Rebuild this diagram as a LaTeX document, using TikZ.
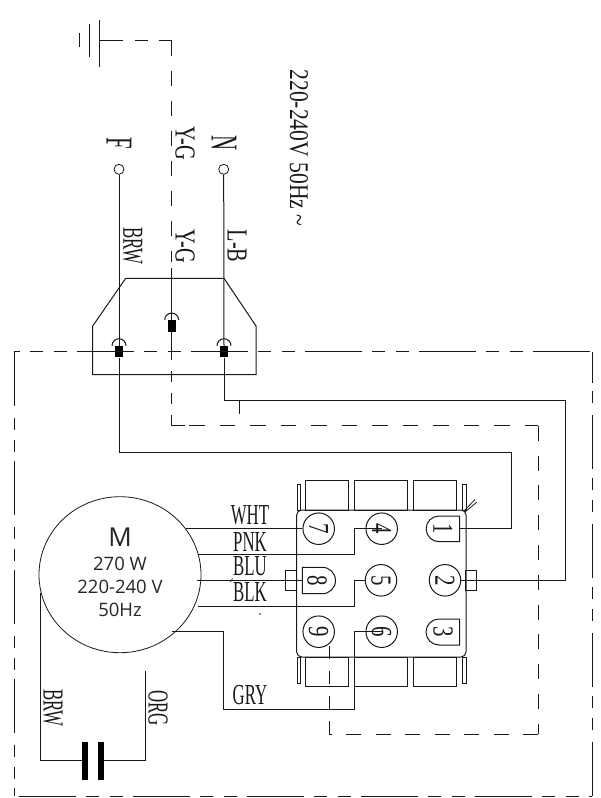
\documentclass[tikz,border=0pt]{standalone}
\usepackage{fontspec}
\usepackage{graphicx}
\setmainfont{Liberation Serif}
\newfontfamily\motorfont{Open Sans}
\usetikzlibrary{shapes.geometric,calc}
\definecolor{ink}{gray}{0.1}
\newcommand{\cond}[1]{\scalebox{0.58}[1]{\fontsize{29}{29}\selectfont #1}}
\newcommand{\rcond}[1]{\rotatebox{-90}{\cond{#1}}}
\newcommand{\rwide}[1]{\rotatebox{-90}{\scalebox{0.7}[1]{\fontsize{29}{29}\selectfont #1}}}
\newcommand{\rbig}[1]{\rotatebox{-90}{\scalebox{0.55}[1]{\fontsize{38}{38}\selectfont #1}}}
\newcommand{\dig}[1]{\rotatebox{-90}{\scalebox{0.72}[1]{\fontsize{29}{29}\selectfont #1}}}
\tikzset{
  wire/.style={draw=ink,line width=1pt},
  dashwire/.style={draw=ink,line width=1pt,dash pattern=on 15pt off 14.8pt},
  frameH/.style={draw=ink,line width=1pt,dash pattern=on 57pt off 10pt on 13pt off 11pt on 13pt off 10pt},
  frameV/.style={draw=ink,line width=1pt,dash pattern=on 54pt off 12pt on 12pt off 10pt on 12pt off 9pt},
  lab/.style={inner sep=0pt,text=ink},
  pin/.style={circle,draw=ink,line width=1pt,minimum size=31.5pt,inner sep=0pt,text=ink},
  plug/.style={circle,draw=ink,line width=.8pt,minimum size=10pt,inner sep=0pt},
  blk/.style={rectangle,fill=black,minimum width=8pt,minimum height=11.5pt,inner sep=0pt},
  tab/.style={draw=ink,line width=1pt},
  plate/.style={rectangle,fill=black,minimum width=6pt,minimum height=38pt,inner sep=0pt}
}
\begin{document}
\begin{tikzpicture}[x=1pt,y=-1pt]
\useasboundingbox (0,0) rectangle (601,798);
\fill[white] (0,0) rectangle (601,798);
% ground
\coordinate (gnd) at (99.3,40.7);
\coordinate (gc) at (171.7,40.7);
\draw[wire] (99.3,20) -- (99.3,66.7);
\draw[wire] (89.3,24) -- (89.3,56.7);
\draw[wire] (79.3,33) -- (79.3,47);
\draw[wire,dash pattern=on 23.5pt off 12.5pt on 12.5pt off 11pt on 13pt off 20pt] (gnd) -- (gc);
\draw[dashwire,dash pattern=on 15pt off 15pt] (gc) -- (171.7,262);
% plugs
\node[plug] (F) at (119,169.3) {};
\node[plug] (N) at (223.7,169.3) {};
\node[lab] (lF) at (119,143) {\rbig{F}};
\node[lab] (lN) at (224,143) {\rbig{N}};
\node[lab] (lYG1) at (185,143) {\rwide{Y-G}};
\node[lab] (lYG2) at (185,246) {\rwide{Y-G}};
\node[lab] (lLB) at (237,246) {\rwide{L-B}};
\node[lab] (lBRW1) at (132.7,246) {\rcond{BRW}};
\node[lab] (lV) at (299,148) {\rotatebox{-90}{\scalebox{0.8}[1]{\fontsize{27}{27}\selectfont 220-240V 50Hz \textasciitilde}}};
% terminal block
\draw[wire] (125.7,278.3) -- (224,278.3) -- (256,326) -- (256,374.7) -- (92.7,374.7) -- (92.7,326) -- cycle;
\node[blk] (bF) at (119,351.7) {};
\node[blk] (bY) at (171.7,326) {};
\node[blk] (bN) at (224,351.7) {};
\draw[wire] (bF.north) ++(-7,0) arc[start angle=180,end angle=360,radius=7];
\draw[wire] (bY.north) ++(-7,0) arc[start angle=180,end angle=360,radius=7];
\draw[wire] (bN.north) ++(-7,0) arc[start angle=180,end angle=360,radius=7];
\draw[wire] (F.south) -- (bF.north);
\draw[wire] (N.south) -- (bN.north);
\draw[wire] (171.7,268) -- (bY.north);
\draw[wire] (bY.south) -- (171.7,351);
% frame
\coordinate (fTL) at (14,351.7);
\coordinate (fTR) at (592.3,351.7);
\coordinate (fBR) at (592.3,796);
\coordinate (fBL) at (14,796);
\draw[frameH,dash phase=51pt] (fTL) -- (fTR);
\draw[frameH,dash phase=109pt] (fBL) -- (fBR);
\draw[frameV] (fTL) -- (fBL);
\draw[frameV] (fBR) -- (fTR);
\draw[wire] (fTR) -- (592.3,383);
% motor
\node[ellipse,draw=ink,line width=.8pt,minimum width=162pt,minimum height=156pt,inner sep=0pt] (M) at (120,574.7) {};
\node[lab,text=black!85] (mM) at (120,537) {\motorfont\fontsize{26}{26}\selectfont M};
\node[lab,text=black!85] (m1) at (120,564) {\motorfont\fontsize{18.5}{18.5}\selectfont 270 W};
\node[lab,text=black!85] (m2) at (120,587) {\motorfont\fontsize{18.5}{18.5}\selectfont 220-240 V};
\node[lab,text=black!85] (m3) at (120,610) {\motorfont\fontsize{18.5}{18.5}\selectfont 50Hz};
% connector body
\draw[tab,rounded corners=5pt] (296.7,510) rectangle (466,657);
\draw[tab] (305.7,480) rectangle (348.7,510);
\draw[tab] (354.7,480) rectangle (407.3,510);
\draw[tab] (413.7,480) rectangle (456.7,510);
\draw[tab] (305.7,657) rectangle (348.7,686.7);
\draw[tab] (354.7,657) rectangle (407.3,686.7);
\draw[tab] (413.7,657) rectangle (456.7,686.7);
\draw[tab] (297.3,484) rectangle (300.7,510);
\draw[tab] (462.3,484) rectangle (466.3,510);
\draw[tab] (297.3,657) rectangle (300.7,683);
\draw[tab] (462.3,657) rectangle (466.3,683);
\node[draw=ink,line width=1pt,minimum width=11pt,minimum height=19.5pt,inner sep=0pt] (tabL) at (291.2,580.3) {};
\node[draw=ink,line width=1pt,minimum width=10.5pt,minimum height=19.5pt,inner sep=0pt] (tabR) at (471.2,580.3) {};
\draw[wire,line width=.8pt] (464,511) -- (475,499.5);
\draw[wire,line width=.8pt] (465,512) -- (477,502);
% pins
\node[pin] (p7) at (318.7,528.7) {\dig{7}};
\node[pin] (p4) at (381.7,528.7) {\dig{4}};
\node[pin] (p5) at (381,580.3) {\dig{5}};
\node[pin] (p6) at (381.7,631.7) {\dig{6}};
\node[pin] (p9) at (318.7,631.7) {\dig{9}};
\node[pin] (p2) at (445,580.3) {\dig{2}};
\draw[wire] (459.7,516) -- (459.7,541.7) -- (439,541.7) arc[start angle=90,end angle=270,radius=12.85] -- cycle;
\draw[wire] (459.7,619) -- (459.7,645) -- (439,645) arc[start angle=90,end angle=270,radius=13] -- cycle;
\draw[wire] (302.3,567.3) -- (302.3,593.7) -- (322.3,593.7) arc[start angle=90,end angle=-90,radius=13.2] -- cycle;
\node[lab] (p1) at (443,528.8) {\dig{1}};
\node[lab] (p3) at (443,632) {\dig{3}};
\node[lab] (p8) at (317,580.5) {\dig{8}};
\coordinate (h1) at (459.7,528.8);
\coordinate (h8) at (302.3,580.3);
% motor wires
\coordinate (mW) at (186,528.7);
\coordinate (mP) at (198,554.7);
\coordinate (mU) at (197,580.3);
\coordinate (mK) at (198,606);
\coordinate (mG) at (171.7,631.7);
\draw[wire] (mW) -- (p7.west);
\draw[wire] (mP) -- (354.7,554.7) -- (354.7,528.7) -- (p4.center);
\draw[wire] (mU) -- (h8);
\draw[wire] (mK) -- (354.7,606) -- (354.7,580.3) -- (p5.west);
\draw[wire] (mG) -- (223.7,631.7) -- (223.7,709) -- (354.7,709) -- (354.7,631.7) -- (p6.center);
\node[lab] (lW) at (250,515.5) {\cond{WHT}};
\node[lab] (lP) at (250,541.5) {\cond{PNK}};
\node[lab] (lU) at (250,566.5) {\cond{BLU}};
\node[lab] (lK) at (250,592.5) {\cond{BLK}};
\node[lab] (lG) at (250,695.5) {\cond{GRY}};
\fill[ink] (260,614) circle (.8);
\draw[wire,line width=.7pt] (230.5,582) -- (232.5,578.5);
% capacitor
\coordinate (cA) at (40.5,593);
\coordinate (cB) at (145.3,670.7);
\node[plate] (c1) at (85.2,760.5) {};
\node[plate] (c2) at (100.8,760.5) {};
\draw[wire] (cA) -- (40.5,760.5) -- (c1.west);
\draw[wire] (c2.east) -- (145.3,760.5) -- (cB);
\node[lab] (lBRW2) at (53,708) {\rcond{BRW}};
\node[lab] (lORG) at (158,708) {\rcond{ORG}};
% supply wires
\draw[wire] (bF.south) -- (119,452) -- (511,452) -- (511,528.8) -- (h1);
\draw[wire] (bN.south) -- (224,400.7) -- (565,400.7) -- (565,580.3) -- (tabR.east) -- (p2.east);
\draw[wire] (239,400.7) -- (239,414);
% earth loop
\coordinate (e1) at (171.7,425.7);
\coordinate (e2) at (538.4,425.7);
\coordinate (e3) at (538.4,734.3);
\coordinate (e4) at (329.3,734.3);
\coordinate (e5) at (329.3,644);
\draw[wire,dash pattern=on 11pt off 11pt] (e1) -- (171.7,351);
\draw[wire] (e1) -- (185,425.7);
\draw[dashwire,dash pattern=on 15.5pt off 15pt] (189,425.7) -- (e2);
\draw[dashwire] (e2) -- (e3);
\draw[dashwire,dash pattern=on 15pt off 14.5pt] (e3) -- (e4);
\draw[wire,dash pattern=on 13pt off 12pt] (e4) -- (e5);
\end{tikzpicture}
\end{document}
